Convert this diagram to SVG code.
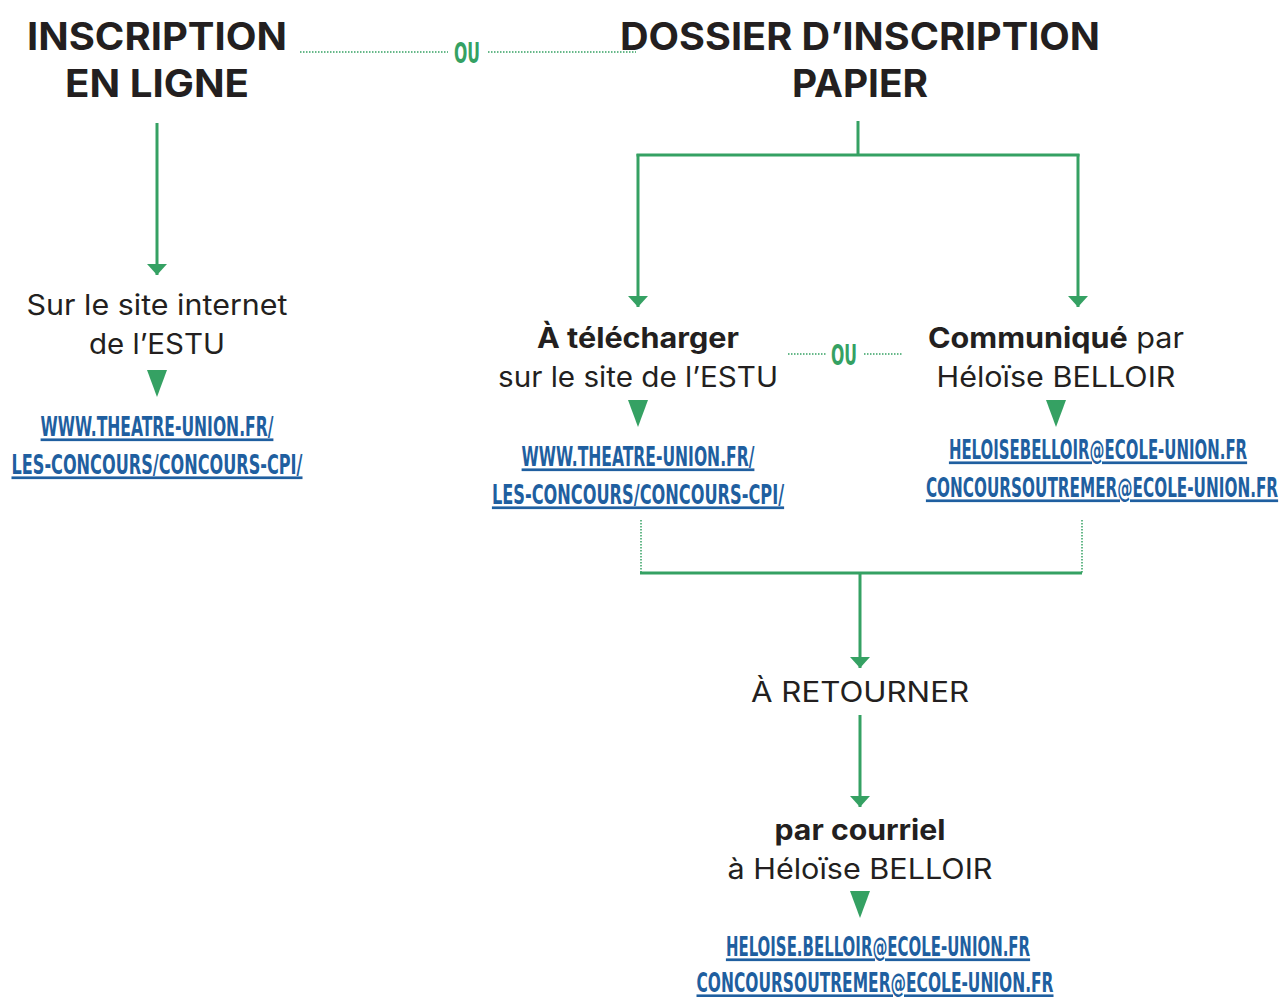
<svg xmlns="http://www.w3.org/2000/svg" width="1286" height="997" viewBox="0 0 1286 997">
<defs>
<marker id="ah" markerWidth="12" markerHeight="20" refX="11" refY="10" orient="auto" markerUnits="userSpaceOnUse" viewBox="0 0 12 20">
<path d="M0,0 L11,10 L0,20 Z" fill="#35a163"/>
</marker>
</defs>
<style>
.h{font-family:"Inter","Liberation Sans",sans-serif;font-weight:700;font-size:38px;fill:#231f20;text-anchor:middle}
.t{font-family:"Inter","Liberation Sans",sans-serif;font-size:28px;fill:#231f20;text-anchor:middle}
.b{font-weight:700}
.u{font-family:"DejaVu Sans Condensed","Liberation Sans",sans-serif;font-weight:700;font-size:27px;fill:#1f5fa0;text-anchor:middle;text-decoration:underline}
.ou{font-family:"DejaVu Sans Condensed","Liberation Sans",sans-serif;font-weight:700;font-size:28px;fill:#35a163;text-anchor:middle}
.ln{stroke:#35a163;stroke-width:3;fill:none}
.dot{stroke:#35a163;stroke-width:1.5;stroke-dasharray:1.5 1.5;fill:none}
.tri{fill:#35a163}
</style>
<rect width="1286" height="997" fill="#ffffff"/>
<g id="connectors">
<line class="ln" x1="157" y1="123" x2="157" y2="275" marker-end="url(#ah)"/>
<line class="ln" x1="858" y1="121" x2="858" y2="155"/>
<line class="ln" x1="636.5" y1="155" x2="1079.5" y2="155"/>
<line class="ln" x1="638" y1="154" x2="638" y2="307" marker-end="url(#ah)"/>
<line class="ln" x1="1078" y1="154" x2="1078" y2="307" marker-end="url(#ah)"/>
<line class="dot" x1="641" y1="520" x2="641" y2="573"/>
<line class="dot" x1="1082" y1="520" x2="1082" y2="573"/>
<line class="ln" x1="640" y1="573" x2="1082" y2="573"/>
<line class="ln" x1="860" y1="573" x2="860" y2="668" marker-end="url(#ah)"/>
<line class="ln" x1="860" y1="715" x2="860" y2="807" marker-end="url(#ah)"/>
<line class="dot" x1="300" y1="52" x2="448" y2="52"/>
<line class="dot" x1="488" y1="52" x2="636" y2="52"/>
<line class="dot" x1="788" y1="354" x2="826" y2="354"/>
<line class="dot" x1="864" y1="354" x2="902" y2="354"/>
</g>
<g id="ou1"><text class="ou" x="467" y="63" textLength="26" lengthAdjust="spacingAndGlyphs">OU</text></g>
<g id="ou2"><text class="ou" x="844" y="365" textLength="26" lengthAdjust="spacingAndGlyphs">OU</text></g>
<g id="inscription-en-ligne">
<text class="h" x="157" y="50" textLength="260" lengthAdjust="spacingAndGlyphs">INSCRIPTION</text>
<text class="h" x="157" y="97" textLength="184" lengthAdjust="spacingAndGlyphs">EN LIGNE</text>
</g>
<g id="dossier-papier">
<text class="h" x="860" y="50" textLength="480" lengthAdjust="spacingAndGlyphs">DOSSIER D’INSCRIPTION</text>
<text class="h" x="860" y="97" textLength="136" lengthAdjust="spacingAndGlyphs">PAPIER</text>
</g>
<g id="site-internet">
<text class="t" x="157" y="315" textLength="261" lengthAdjust="spacingAndGlyphs">Sur le site internet</text>
<text class="t" x="157" y="354" textLength="136" lengthAdjust="spacingAndGlyphs">de l’ESTU</text>
<polygon class="tri" points="147,370 167,370 157,397"/>
<g transform="translate(157,0) scale(0.6,1)">
<text class="u" x="0" y="436" textLength="388" lengthAdjust="spacingAndGlyphs">WWW.THEATRE-UNION.FR/</text>
<text class="u" x="0" y="474" textLength="485" lengthAdjust="spacingAndGlyphs">LES-CONCOURS/CONCOURS-CPI/</text>
</g>
</g>
<g id="telecharger">
<text class="t" x="638" y="348" textLength="202" lengthAdjust="spacingAndGlyphs"><tspan class="b">À télécharger</tspan></text>
<text class="t" x="638" y="387" textLength="280" lengthAdjust="spacingAndGlyphs">sur le site de l’ESTU</text>
<polygon class="tri" points="628,400 648,400 638,427"/>
<g transform="translate(638,0) scale(0.6,1)">
<text class="u" x="0" y="466" textLength="388" lengthAdjust="spacingAndGlyphs">WWW.THEATRE-UNION.FR/</text>
<text class="u" x="0" y="504" textLength="487" lengthAdjust="spacingAndGlyphs">LES-CONCOURS/CONCOURS-CPI/</text>
</g>
</g>
<g id="communique">
<text class="t" x="1056" y="348" textLength="256" lengthAdjust="spacingAndGlyphs"><tspan class="b">Communiqué</tspan> par</text>
<text class="t" x="1056" y="387" textLength="239" lengthAdjust="spacingAndGlyphs">Héloïse BELLOIR</text>
<polygon class="tri" points="1046,400 1066,400 1056,427"/>
<g transform="translate(1098,0) scale(0.6,1)">
<text class="u" x="0" y="459" textLength="497" lengthAdjust="spacingAndGlyphs">HELOISEBELLOIR@ECOLE-UNION.FR</text>
</g>
<g transform="translate(1102,0) scale(0.6,1)">
<text class="u" x="0" y="497" textLength="587" lengthAdjust="spacingAndGlyphs">CONCOURSOUTREMER@ECOLE-UNION.FR</text>
</g>
</g>
<g id="retourner">
<text class="t" x="860" y="702" textLength="218" lengthAdjust="spacingAndGlyphs">À RETOURNER</text>
</g>
<g id="courriel">
<text class="t" x="860" y="840" textLength="171" lengthAdjust="spacingAndGlyphs"><tspan class="b">par courriel</tspan></text>
<text class="t" x="860" y="879" textLength="265" lengthAdjust="spacingAndGlyphs">à Héloïse BELLOIR</text>
<polygon class="tri" points="850,891 870,891 860,918"/>
<g transform="translate(878,0) scale(0.6,1)">
<text class="u" x="0" y="956" textLength="507" lengthAdjust="spacingAndGlyphs">HELOISE.BELLOIR@ECOLE-UNION.FR</text>
</g>
<g transform="translate(875,0) scale(0.6,1)">
<text class="u" x="0" y="992" textLength="595" lengthAdjust="spacingAndGlyphs">CONCOURSOUTREMER@ECOLE-UNION.FR</text>
</g>
</g>
</svg>
